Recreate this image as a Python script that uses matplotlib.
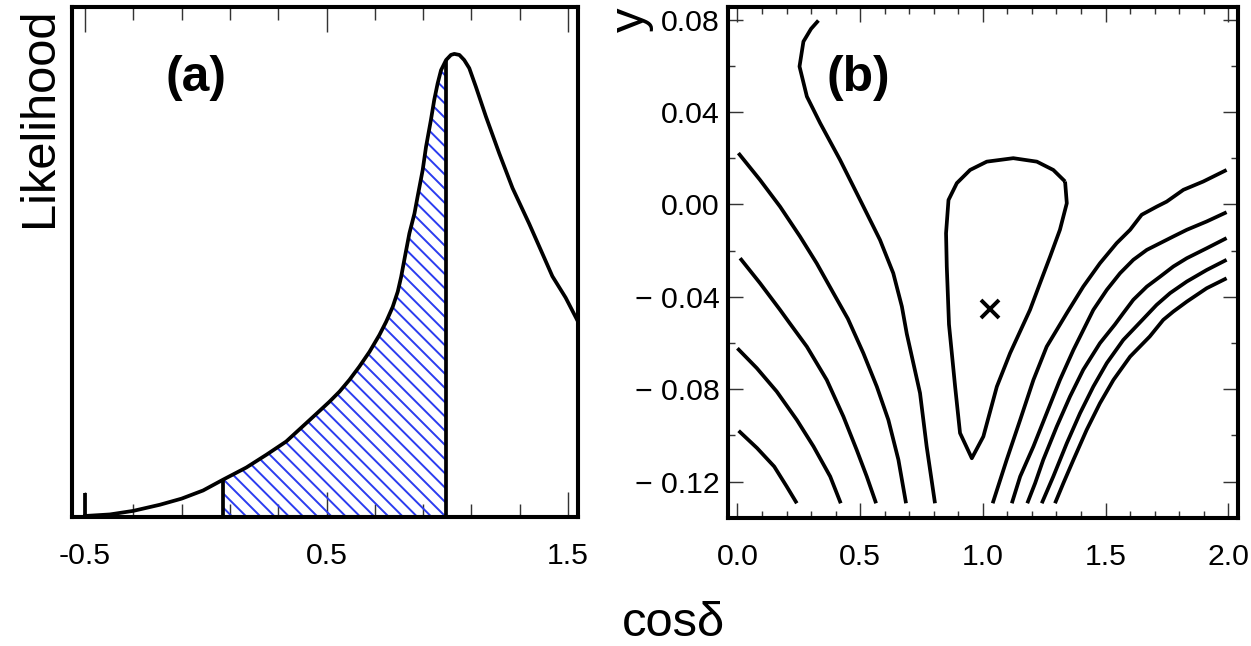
import numpy as np
import matplotlib
matplotlib.use("Agg")
import matplotlib.pyplot as plt
from matplotlib.ticker import FixedLocator, FixedFormatter, MultipleLocator

plt.rcParams['font.family'] = ['Liberation Sans', 'DejaVu Sans']
plt.rcParams['hatch.linewidth'] = 1.1

# ---- panel (a): likelihood vs cos(delta) ----
cos_a = np.array([-0.500, -0.397, -0.300, -0.190, -0.100, -0.011, 0.071,
                  0.168, 0.251, 0.333, 0.416, 0.471, 0.512, 0.554, 0.595,
                  0.636, 0.678, 0.719, 0.747, 0.774, 0.795, 0.809, 0.822,
                  0.843, 0.864, 0.877, 0.898, 0.912, 0.932, 0.946, 0.960,
                  0.974, 0.995, 1.015, 1.029, 1.050, 1.070, 1.091, 1.118,
                  1.160, 1.215, 1.270, 1.339, 1.395, 1.435, 1.490, 1.538])
like_a = np.array([0.002, 0.005, 0.012, 0.024, 0.036, 0.052, 0.073,
                   0.097, 0.122, 0.148, 0.184, 0.208, 0.226, 0.246, 0.269,
                   0.295, 0.324, 0.357, 0.383, 0.412, 0.442, 0.471, 0.504,
                   0.556, 0.595, 0.628, 0.680, 0.726, 0.778, 0.818, 0.850,
                   0.876, 0.896, 0.906, 0.908, 0.906, 0.896, 0.880, 0.844,
                   0.785, 0.713, 0.645, 0.575, 0.515, 0.472, 0.430, 0.386])
band_lo, band_hi = 0.071, 0.995      # hatched interval
edge_x, edge_h = -0.5, 0.047         # thick mark at cos(delta) = -0.5

a_major = [-0.5, 0.5, 1.5]
a_minor = [-0.3, -0.1, 0.1, 0.3, 0.7, 0.9, 1.1, 1.3]
a_labels = ['-0.5', '0.5', '1.5']

# ---- panel (b): contours in (cos(delta), y) ----
l1_x = [0.005, 0.080, 0.150, 0.200, 0.242]
l1_y = [-0.0980, -0.1055, -0.1135, -0.1220, -0.1294]
l2_x = [0.000, 0.079, 0.160, 0.242, 0.310, 0.378, 0.421]
l2_y = [-0.0623, -0.0709, -0.0810, -0.0933, -0.1048, -0.1178, -0.1294]
l3_x = [0.011, 0.092, 0.174, 0.210, 0.283, 0.364, 0.432, 0.486, 0.527, 0.565]
l3_y = [-0.0233, -0.0341, -0.0457, -0.0510, -0.0616, -0.0760, -0.0919,
        -0.1063, -0.1178, -0.1294]
l4_x = [0.004, 0.092, 0.174, 0.255, 0.323, 0.391, 0.450, 0.513, 0.568,
        0.615, 0.656, 0.687]
l4_y = [0.0222, 0.0106, -0.0010, -0.0139, -0.0255, -0.0384, -0.0495,
        -0.0644, -0.0789, -0.0933, -0.1106, -0.1294]
c1_x = [0.330, 0.300, 0.269, 0.253, 0.283, 0.337, 0.418, 0.500, 0.581,
        0.635, 0.670, 0.690, 0.744, 0.771, 0.805]
c1_y = [0.0796, 0.0760, 0.0705, 0.0597, 0.0467, 0.0352, 0.0193, 0.0019,
        -0.0154, -0.0298, -0.0442, -0.0560, -0.0817, -0.1048, -0.1294]
loop_x = [1.335, 1.342, 1.314, 1.274, 1.233, 1.192, 1.111, 1.057,
          1.002, 0.955, 0.907, 0.887, 0.862, 0.853, 0.850, 0.860,
          0.894, 0.948, 1.016, 1.124, 1.220, 1.287, 1.335]
loop_y = [0.0099, 0.0005, -0.0110, -0.0226, -0.0341, -0.0457,
          -0.0644, -0.0789, -0.1005, -0.1099, -0.0990, -0.0789, -0.0520,
          -0.0269, -0.0125, 0.0019, 0.0092, 0.0149, 0.0185,
          0.0200, 0.0185, 0.0149, 0.0099]
r1_x = [1.993, 1.898, 1.817, 1.749, 1.708, 1.647, 1.600, 1.545, 1.477,
        1.409, 1.342, 1.260, 1.206, 1.152, 1.097, 1.040]
r1_y = [0.0149, 0.0099, 0.0063, 0.0012, -0.0010, -0.0045, -0.0110, -0.0168,
        -0.0255, -0.0356, -0.0471, -0.0616, -0.0760, -0.0933,
        -0.1106, -0.1294]
r2_x = [1.993, 1.912, 1.831, 1.776, 1.722, 1.668, 1.613, 1.559, 1.505,
        1.450, 1.369, 1.314, 1.260, 1.206, 1.152, 1.118]
r2_y = [-0.0034, -0.0074, -0.0110, -0.0139, -0.0168, -0.0197, -0.0240,
        -0.0298, -0.0370, -0.0457, -0.0630, -0.0760, -0.0904,
        -0.1048, -0.1178, -0.1294]
r3_x = [1.993, 1.912, 1.831, 1.776, 1.722, 1.668, 1.613, 1.572, 1.538,
        1.477, 1.409, 1.355, 1.301, 1.246, 1.213, 1.181]
r3_y = [-0.0146, -0.0190, -0.0233, -0.0269, -0.0313, -0.0356, -0.0413,
        -0.0471, -0.0520, -0.0601, -0.0716, -0.0832, -0.0962, -0.1106,
        -0.1207, -0.1294]
r4_x = [1.993, 1.912, 1.831, 1.763, 1.708, 1.650, 1.572, 1.505, 1.450,
        1.396, 1.342, 1.287, 1.240]
r4_y = [-0.0240, -0.0284, -0.0334, -0.0384, -0.0435, -0.0500, -0.0587,
        -0.0687, -0.0789, -0.0904, -0.1034, -0.1178, -0.1294]
r5_x = [1.993, 1.912, 1.831, 1.776, 1.735, 1.680, 1.600, 1.532, 1.477,
        1.423, 1.369, 1.328, 1.294]
r5_y = [-0.0320, -0.0363, -0.0421, -0.0464, -0.0500, -0.0572, -0.0659,
        -0.0760, -0.0861, -0.0976, -0.1106, -0.1207, -0.1294]
contours = [(l1_x, l1_y), (l2_x, l2_y), (l3_x, l3_y), (l4_x, l4_y),
            (c1_x, c1_y), (loop_x, loop_y), (r1_x, r1_y), (r2_x, r2_y),
            (r3_x, r3_y), (r4_x, r4_y), (r5_x, r5_y)]
best_x, best_y = 1.029, -0.0452

b_xticks = [0.0, 0.5, 1.0, 1.5, 2.0]
b_xlabels = ['0.0', '0.5', '1.0', '1.5', '2.0']
b_yticks = [0.08, 0.04, 0.00, -0.04, -0.08, -0.12]
b_ylabels = ['0.08', '0.04', '0.00', '\u2212 0.04', '\u2212 0.08', '\u2212 0.12']

DPI = 128
fig = plt.figure(figsize=(1251 / DPI, 646 / DPI), dpi=DPI)
ax1 = fig.add_axes([0.0573, 0.1997, 0.4051, 0.7895])
ax2 = fig.add_axes([0.5822, 0.1977, 0.4077, 0.7920])

LW = 2.1
# ---- (a) ----
ax1.plot(cos_a, like_a, color='k', lw=LW, zorder=3)
m = (cos_a >= band_lo) & (cos_a <= band_hi)
ax1.fill_between(cos_a[m], 0, like_a[m], facecolor='none',
                 edgecolor='#2b3cf0', hatch='\\\\\\', lw=0, zorder=2)
ax1.vlines([band_lo, band_hi], 0, [like_a[m][0], like_a[m][-1]],
           color='k', lw=LW, zorder=3)
ax1.vlines(edge_x, 0, edge_h, color='k', lw=LW, zorder=3)
ax1.set_xlim(-0.555, 1.543)
ax1.set_ylim(0, 1)
ax1.xaxis.set_major_locator(FixedLocator(a_major))
ax1.xaxis.set_major_formatter(FixedFormatter(a_labels))
ax1.xaxis.set_minor_locator(FixedLocator(a_minor))
ax1.set_yticks([])
ax1.tick_params(axis='x', which='both', direction='in', top=True,
                color='#333333', width=0.8, labelsize=17, pad=14)
ax1.tick_params(axis='x', which='major', length=14)
ax1.tick_params(axis='x', which='minor', length=7.3)
ax1.text(0.245, 0.86, '(a)', transform=ax1.transAxes, ha='center',
         va='center', fontsize=28, fontweight='bold')

# ---- (b) ----
for xs, ys in contours:
    ax2.plot(xs, ys, color='k', lw=LW, solid_capstyle='butt')
ax2.plot(best_x, best_y, marker='x', color='k', ms=10, mew=2.2)
ax2.set_xlim(-0.037, 2.041)
ax2.set_ylim(-0.1359, 0.0856)
ax2.set_xticks(b_xticks)
ax2.set_xticklabels(b_xlabels)
ax2.xaxis.set_minor_locator(MultipleLocator(0.1))
ax2.set_yticks(b_yticks)
ax2.set_yticklabels(b_ylabels)
ax2.yaxis.set_minor_locator(MultipleLocator(0.02))
ax2.tick_params(which='both', direction='in', top=True, right=True,
                color='#333333', width=0.8, labelsize=17)
ax2.tick_params(which='major', length=8.5)
ax2.tick_params(which='minor', length=4.2)
ax2.tick_params(axis='x', pad=14)
ax2.tick_params(axis='y', pad=5)
ax2.text(0.255, 0.86, '(b)', transform=ax2.transAxes, ha='center',
         va='center', fontsize=28, fontweight='bold')

for ax in (ax1, ax2):
    for s in ax.spines.values():
        s.set_linewidth(2.3)

fig.text(40 / 1251, 1 - 117 / 646, 'Likelihood', rotation=90, ha='center',
         va='center', fontsize=27.5)
fig.text(631 / 1251, 1 - 20 / 646, 'y', rotation=90, ha='center',
         va='center', fontsize=27.5)
fig.text(674 / 1251, 1 - 636 / 646, 'cos\u03b4', ha='center',
         va='baseline', fontsize=27.5)

fig.savefig('out.png', dpi=DPI)
